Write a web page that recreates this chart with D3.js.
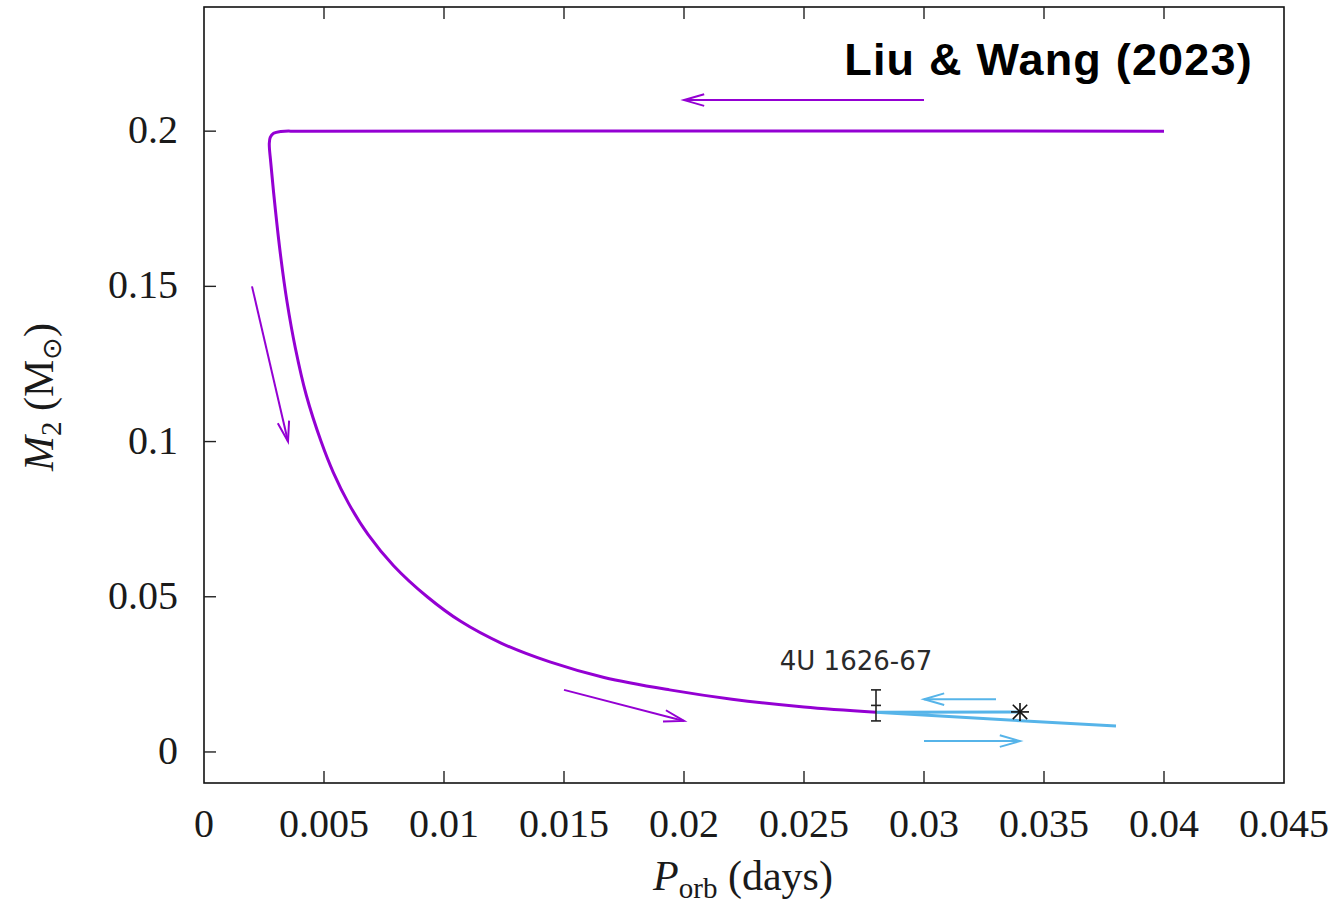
<!DOCTYPE html>
<html lang="en">
<head>
<meta charset="UTF-8">
<script src="https://cdn.jsdelivr.net/npm/d3@7"></script>
<title>M2 vs Porb</title>
<style>
  body { margin: 0; background: #fff; }
</style>
</head>
<body>
<script>
// values
var xTicks = [0, 0.005, 0.01, 0.015, 0.02, 0.025, 0.03, 0.035, 0.04, 0.045];
var yTicks = [0, 0.05, 0.1, 0.15, 0.2];

// purple track (P_orb in days, M2 in Msun)
var trackP = [0.0400, 0.0040, 0.0032, 0.0029, 0.00276, 0.00272, 0.00278, 0.00297, 0.00319, 0.00346, 0.00381, 0.00426,
  0.00488, 0.00539, 0.00603, 0.00684, 0.00790, 0.0093, 0.01071, 0.0124, 0.01441, 0.01667, 0.0194, 0.0220, 0.0250, 0.0280];
var trackM = [0.2000, 0.2000, 0.1999, 0.1993, 0.1980, 0.1960, 0.190, 0.175, 0.160, 0.145, 0.130, 0.115,
  0.100, 0.090, 0.080, 0.070, 0.060, 0.050, 0.042, 0.035, 0.029, 0.024, 0.020, 0.017, 0.0145, 0.0128];

// blue track
var blueP = [0.0340, 0.0280, 0.0330, 0.0380];
var blueM = [0.0129, 0.0128, 0.0105, 0.0084];

// observed source
var srcName = "4U 1626-67";
var srcP = 0.028, srcM = 0.015, srcErr = 0.005;
var starP = 0.034, starM = 0.0129;

// arrows [x1, y1, x2, y2, colour]
var arrows = [
  [0.030, 0.210, 0.020, 0.210, "purple"],
  [0.0020, 0.150, 0.0035, 0.100, "purple"],
  [0.015, 0.020, 0.020, 0.010, "purple"],
  [0.033, 0.017, 0.030, 0.017, "blue"],
  [0.030, 0.0035, 0.034, 0.0035, "blue"]
];

var colors = { purple: "#9400d3", blue: "#56b4e9" };

var W = 1337, H = 909;
var svg = d3.select("body").append("svg").attr("width", W).attr("height", H);

var x = d3.scaleLinear().domain([0, 0.045]).range([204, 1284]);
var y = d3.scaleLinear().domain([-0.01, 0.24]).range([783, 7]);

var serif = "'Liberation Serif', 'DejaVu Serif', serif";

// frame
svg.append("rect").attr("x", 204).attr("y", 7).attr("width", 1080).attr("height", 776)
  .attr("fill", "none").attr("stroke", "#111").attr("stroke-width", 1.6);

// ticks (inward), bottom + top, left
var tickG = svg.append("g").attr("stroke", "#222").attr("stroke-width", 1.4);
xTicks.slice(1, -1).forEach(function(t) {
  tickG.append("line").attr("x1", x(t)).attr("x2", x(t)).attr("y1", 783).attr("y2", 771);
  tickG.append("line").attr("x1", x(t)).attr("x2", x(t)).attr("y1", 7).attr("y2", 19);
});
yTicks.forEach(function(t) {
  tickG.append("line").attr("x1", 204).attr("x2", 216).attr("y1", y(t)).attr("y2", y(t));
});

// tick labels
svg.append("g").selectAll("text").data(xTicks).enter().append("text")
  .attr("x", function(d) { return x(d); }).attr("y", 837)
  .attr("text-anchor", "middle").attr("font-family", serif).attr("font-size", 40).attr("fill", "#1a1a1a")
  .text(function(d) { return d; });
svg.append("g").selectAll("text").data(yTicks).enter().append("text")
  .attr("x", 178).attr("y", function(d) { return y(d) + 12; })
  .attr("text-anchor", "end").attr("font-family", serif).attr("font-size", 40).attr("fill", "#1a1a1a")
  .text(function(d) { return d; });

// axis titles
var xt = svg.append("text").attr("x", 743).attr("y", 890).attr("text-anchor", "middle")
  .attr("font-family", serif).attr("font-size", 42).attr("fill", "#1a1a1a");
xt.append("tspan").attr("font-style", "italic").text("P");
xt.append("tspan").attr("font-size", 29).attr("dy", 8).text("orb");
xt.append("tspan").attr("dy", -8).text(" (days)");

var yt = svg.append("text").attr("transform", "translate(53,397) rotate(-90)").attr("text-anchor", "middle")
  .attr("font-family", serif).attr("font-size", 42).attr("fill", "#1a1a1a");
yt.append("tspan").attr("font-style", "italic").text("M");
yt.append("tspan").attr("font-size", 29).attr("dy", 8).text("2");
yt.append("tspan").attr("dy", -8).text(" (M");
yt.append("tspan").attr("font-size", 27).attr("dy", 8).attr("font-family", "'DejaVu Sans', sans-serif").text("\u2299");
yt.append("tspan").attr("dy", -8).text(")");

// tracks
var line = d3.line().x(function(d) { return x(d[0]); }).y(function(d) { return y(d[1]); })
  .curve(d3.curveCatmullRom.alpha(0.5));

svg.append("path").datum(d3.zip(trackP, trackM)).attr("d", line)
  .attr("fill", "none").attr("stroke", colors.purple).attr("stroke-width", 3);
svg.append("path").datum(d3.zip(blueP, blueM)).attr("d", d3.line()
    .x(function(d) { return x(d[0]); }).y(function(d) { return y(d[1]); }))
  .attr("fill", "none").attr("stroke", colors.blue).attr("stroke-width", 3);

// arrows
arrows.forEach(function(a) {
  var x1 = x(a[0]), y1 = y(a[1]), x2 = x(a[2]), y2 = y(a[3]);
  var ang = Math.atan2(y2 - y1, x2 - x1), L = 21, th = 16 * Math.PI / 180;
  var c = colors[a[4]];
  var g = svg.append("g").attr("stroke", c).attr("stroke-width", 2).attr("fill", "none");
  g.append("line").attr("x1", x1).attr("y1", y1).attr("x2", x2).attr("y2", y2);
  g.append("path").attr("d", "M" + (x2 - L * Math.cos(ang - th)) + "," + (y2 - L * Math.sin(ang - th)) +
    "L" + x2 + "," + y2 + "L" + (x2 - L * Math.cos(ang + th)) + "," + (y2 - L * Math.sin(ang + th)));
});

// error bar
var eb = svg.append("g").attr("stroke", "#222").attr("stroke-width", 1.6);
eb.append("line").attr("x1", x(srcP)).attr("x2", x(srcP)).attr("y1", y(srcM - srcErr)).attr("y2", y(srcM + srcErr));
[srcM - srcErr, srcM, srcM + srcErr].forEach(function(v) {
  eb.append("line").attr("x1", x(srcP) - 5).attr("x2", x(srcP) + 5).attr("y1", y(v)).attr("y2", y(v));
});

// star marker
var sx = x(starP), sy = y(starM), r = 9;
var st = svg.append("g").attr("stroke", "#111").attr("stroke-width", 1.6);
st.append("line").attr("x1", sx - r).attr("x2", sx + r).attr("y1", sy).attr("y2", sy);
st.append("line").attr("x1", sx).attr("x2", sx).attr("y1", sy - r).attr("y2", sy + r);
st.append("line").attr("x1", sx - r * 0.8).attr("x2", sx + r * 0.8).attr("y1", sy - r * 0.8).attr("y2", sy + r * 0.8);
st.append("line").attr("x1", sx - r * 0.8).attr("x2", sx + r * 0.8).attr("y1", sy + r * 0.8).attr("y2", sy - r * 0.8);

// source label
svg.append("text").attr("x", 856).attr("y", 670).attr("text-anchor", "middle")
  .attr("font-family", "'DejaVu Sans', sans-serif").attr("font-size", 26).attr("fill", "#2a2a2a")
  .text(srcName);

// citation
svg.append("text").attr("x", 1253).attr("y", 75).attr("text-anchor", "end")
  .attr("font-family", "'Liberation Sans', Arial, sans-serif").attr("font-weight", "bold")
  .attr("font-size", 45).attr("letter-spacing", 1.2).attr("fill", "#000").text("Liu & Wang (2023)");
</script>
</body>
</html>
